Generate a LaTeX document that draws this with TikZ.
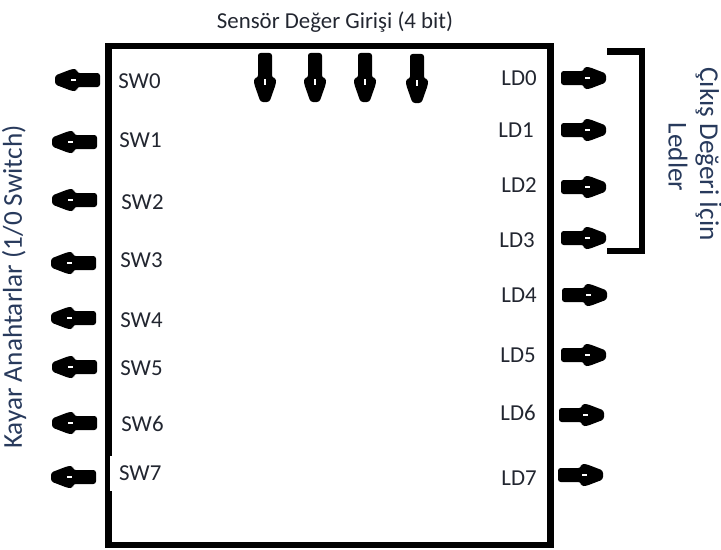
\documentclass[tikz,border=0pt]{standalone}
\usepackage{fontspec}
\setmainfont{Carlito}
\usepackage{xcolor}
\usepackage{tikz}
\usetikzlibrary{positioning,calc}
\definecolor{lblcol}{RGB}{34,38,48}
\definecolor{sidecol}{RGB}{40,58,92}

\begin{document}
\begin{tikzpicture}[
  x=0.02cm, y=-0.02cm,
  lbl/.style={text=lblcol, font=\fontsize{13}{15}\selectfont, inner sep=0pt},
  side/.style={text=sidecol, font=\fontsize{15.5}{18}\selectfont, inner sep=0pt},
  blk/.style={draw, line width=3.7pt, minimum width=8.84cm, minimum height=9.98cm, inner sep=0pt},
  brk/.style={line width=3.6pt},
  pin/.pic={
    \fill[rounded corners=1.5pt] (0,-4.5) -- (17,-11) -- (22,-11) -- (22,-7) -- (45,-7)
      -- (45,7) -- (22,7) -- (22,11) -- (17,11) -- (0,4.5) -- cycle;
    \fill[white] (16,-1) rectangle (21,1.2);
  }
]
\useasboundingbox (0,0) rectangle (721,549);
\node[blk] (chip) at (329.5,295.5) {};
\node[lbl, anchor=base] (title) at (335,28) {Sensör Değer Girişi (4 bit)};
% switches
\node[lbl, anchor=west] (sw0) at (118,81) {SW0};
\node[lbl, anchor=west] (sw1) at (119,140) {SW1};
\node[lbl, anchor=west] (sw2) at (121,202) {SW2};
\node[lbl, anchor=west] (sw3) at (120,260) {SW3};
\node[lbl, anchor=west] (sw4) at (120,320) {SW4};
\node[lbl, anchor=west] (sw5) at (120,368) {SW5};
\node[lbl, anchor=west] (sw6) at (121,424) {SW6};
\node[lbl, anchor=west, fill=white, inner xsep=5pt, inner ysep=5.7pt] (sw7) at (110,473) {SW7};
% leds
\node[lbl, anchor=east] (ld0) at (537,78) {LD0};
\node[lbl, anchor=east] (ld1) at (534,130) {LD1};
\node[lbl, anchor=east] (ld2) at (537,185) {LD2};
\node[lbl, anchor=east] (ld3) at (535,240) {LD3};
\node[lbl, anchor=east] (ld4) at (537,295) {LD4};
\node[lbl, anchor=east] (ld5) at (536,355) {LD5};
\node[lbl, anchor=east] (ld6) at (536,413) {LD6};
\node[lbl, anchor=east] (ld7) at (537,478) {LD7};
\node[side, rotate=90] (kayar) at (14,287) {Kayar Anahtarlar (1/0 Switch)};
\node[side, rotate=-90] (cikis) at (709,154) {Çıkış Değeri İçin};
\node[side, rotate=-90] (ledler) at (678,157) {Ledler};
% pins
\pic at (55,80) {pin};
\pic at (52,142) {pin};
\pic at (52,200) {pin};
\pic at (51,263) {pin};
\pic at (51,318) {pin};
\pic at (52,367) {pin};
\pic at (52,423) {pin};
\pic at (51,477) {pin};
\pic[rotate=180] at (606,78) {pin};
\pic[rotate=180] at (606,130) {pin};
\pic[rotate=180] at (606,187) {pin};
\pic[rotate=180] at (606,238) {pin};
\pic[rotate=180] at (607,295) {pin};
\pic[rotate=180] at (606,355) {pin};
\pic[rotate=180] at (604,415) {pin};
\pic[rotate=180] at (603,475) {pin};
\pic[rotate=90, xscale=1.09] at (265,102) {pin};
\pic[rotate=90, xscale=1.09] at (315,102) {pin};
\pic[rotate=90, xscale=1.09] at (365,102) {pin};
\pic[rotate=90, xscale=1.09] at (417,103) {pin};
\draw[brk] (607,51.5) -- (642,51.5) -- (642,251) -- (607,251);
\end{tikzpicture}
\end{document}
